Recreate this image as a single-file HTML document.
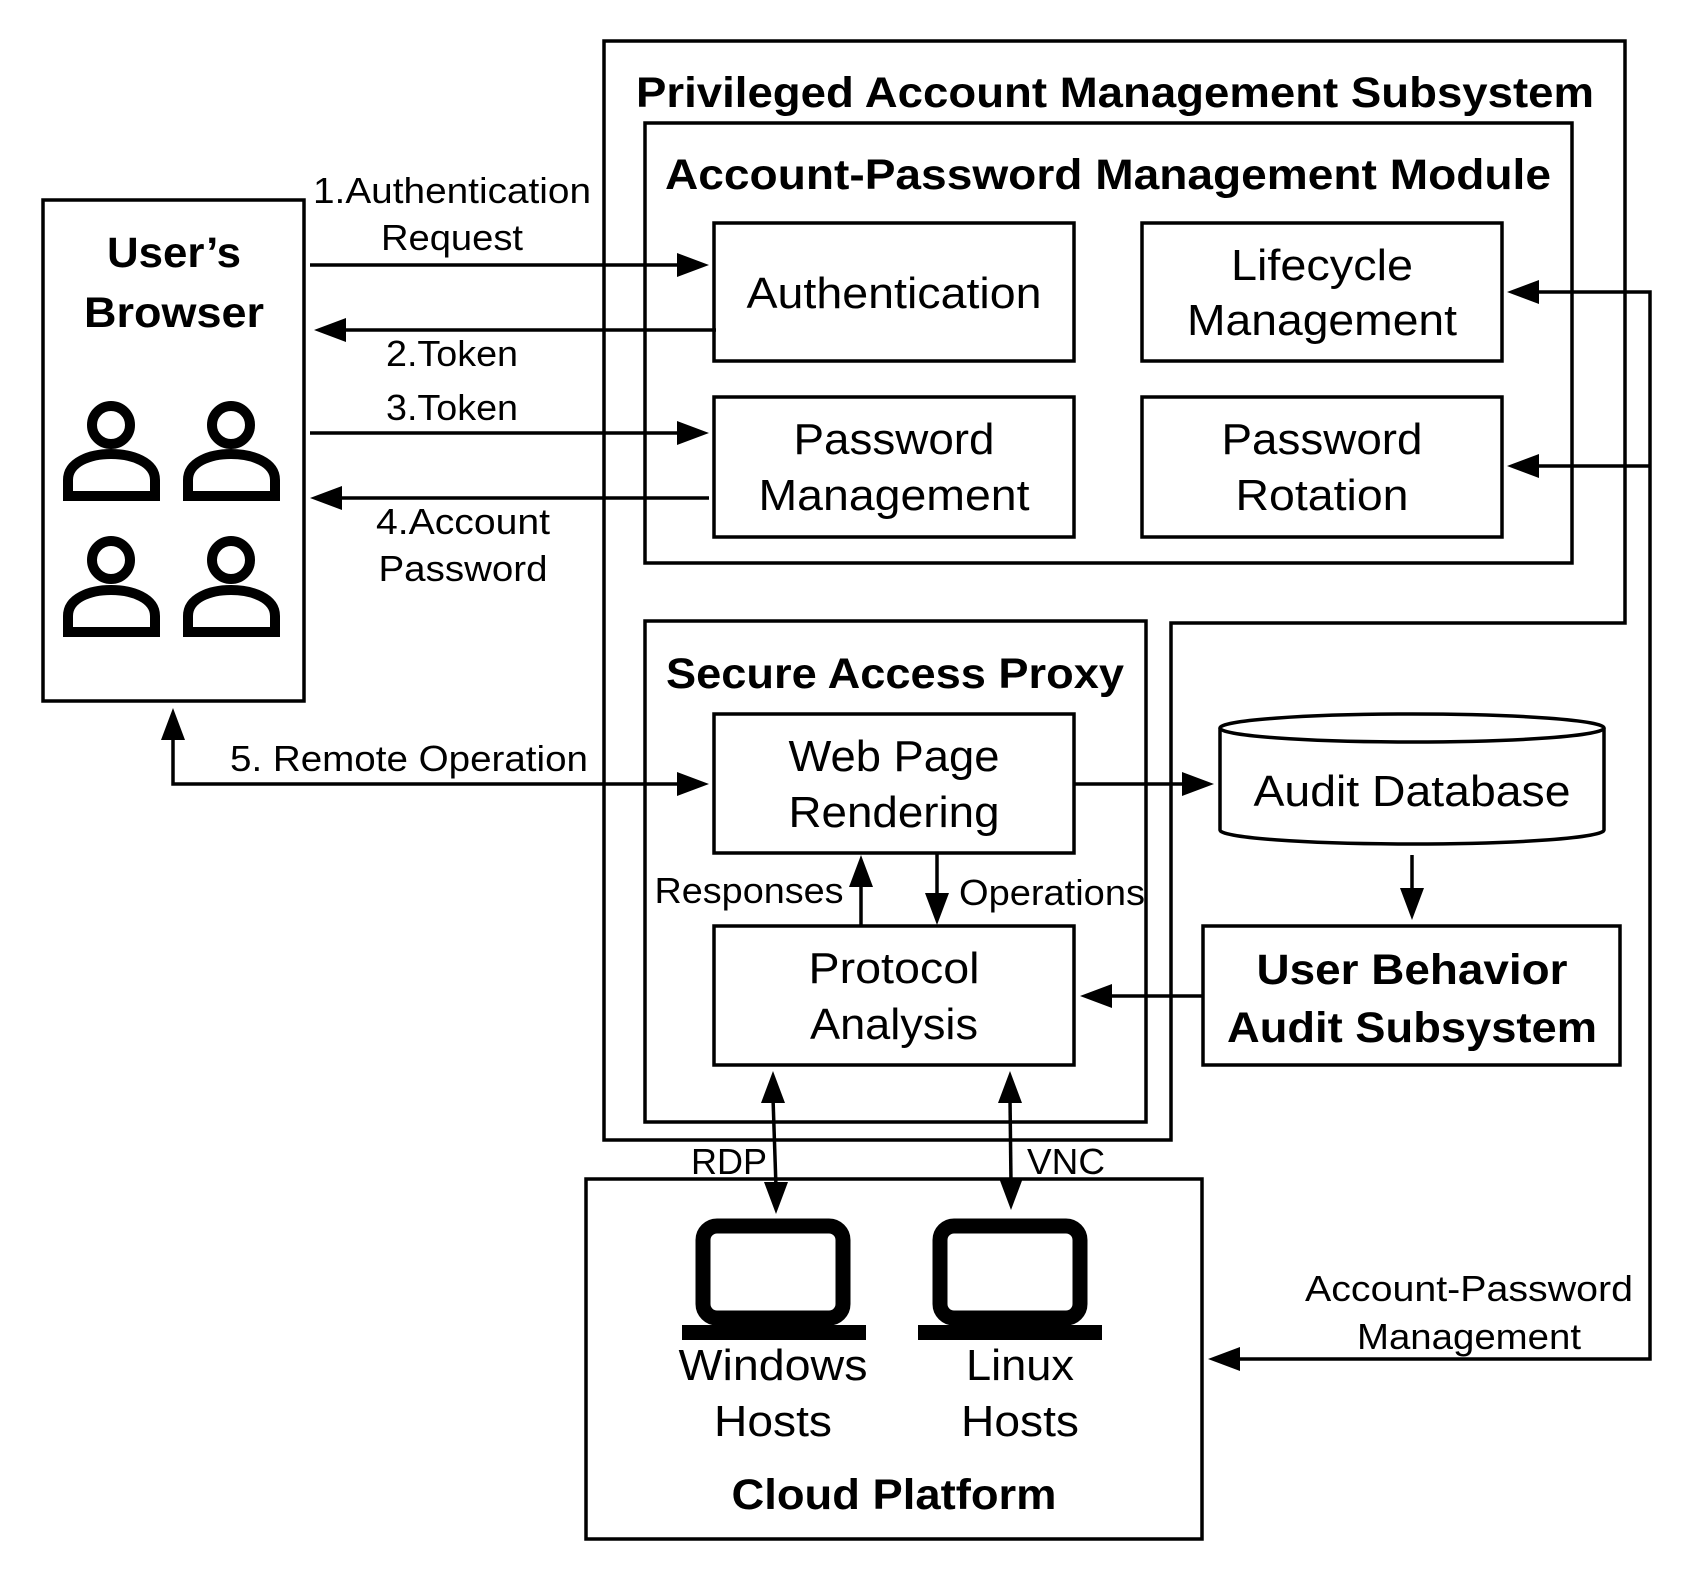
<!DOCTYPE html>
<html><head><meta charset="utf-8"><style>
html,body{margin:0;padding:0;background:#fff;}
svg{display:block;}
text{font-family:"Liberation Sans",Arial,sans-serif;fill:#000;}
.b{font-weight:bold;}
</style></head><body>
<svg width="1696" height="1584" viewBox="0 0 1696 1584" xmlns="http://www.w3.org/2000/svg">
<g fill="none" stroke="#000" stroke-width="3.5">
<polygon points="604,41 1625,41 1625,623 1171,623 1171,1140 604,1140"/>
<rect x="645" y="123" width="927" height="440"/>
<rect x="714" y="223" width="360" height="138"/>
<rect x="1142" y="223" width="360" height="138"/>
<rect x="714" y="397" width="360" height="140"/>
<rect x="1142" y="397" width="360" height="140"/>
<rect x="43" y="200" width="261" height="501"/>
<rect x="645" y="621" width="501" height="501"/>
<rect x="714" y="714" width="360" height="139"/>
<rect x="714" y="926" width="360" height="139"/>
<path d="M1220,728 L1220,830 A192,14 0 0 0 1604,830 L1604,728"/>
<ellipse cx="1412" cy="728" rx="192" ry="14"/>
<rect x="1203" y="926" width="417" height="139"/>
<rect x="586" y="1179" width="616" height="360"/>
<line x1="310" y1="265" x2="682" y2="265"/>
<line x1="716" y1="330" x2="340" y2="330"/>
<line x1="310" y1="433" x2="682" y2="433"/>
<line x1="709" y1="498" x2="336" y2="498"/>
<polyline points="173,740 173,784 682,784"/>
<line x1="1074" y1="784" x2="1188" y2="784"/>
<line x1="861" y1="926" x2="861" y2="882"/>
<line x1="937" y1="853" x2="937" y2="898"/>
<line x1="1412" y1="855" x2="1412" y2="893"/>
<line x1="1203" y1="996" x2="1107" y2="996"/>
<line x1="773" y1="1098" x2="776" y2="1187"/>
<line x1="1010" y1="1098" x2="1011" y2="1183"/>
<polyline points="1534,292 1650,292 1650,1359 1235,1359"/>
<line x1="1650" y1="466" x2="1534" y2="466"/>
<rect x="703" y="1226" width="140" height="92" rx="14" stroke-width="15"/>
<rect x="940" y="1226" width="140" height="92" rx="14" stroke-width="15"/>
<g stroke-width="10">
<circle cx="111" cy="425" r="19"/><circle cx="231" cy="425" r="19"/>
<circle cx="111" cy="560" r="19"/><circle cx="231" cy="560" r="19"/>
<path d="M68,496 L68,480 C68,462 90,454 111,454 C132,454 155,462 155,480 L155,496 Z"/>
<path d="M188,496 L188,480 C188,462 210,454 231,454 C252,454 275,462 275,480 L275,496 Z"/>
<path d="M68,632 L68,616 C68,598 90,590 111,590 C132,590 155,598 155,616 L155,632 Z"/>
<path d="M188,632 L188,616 C188,598 210,590 231,590 C252,590 275,598 275,616 L275,632 Z"/>
</g>
</g>
<g fill="#000">
<rect x="682" y="1325" width="184" height="15"/>
<rect x="918" y="1325" width="184" height="15"/>
<polygon points="709,265 677,253 677,277"/>
<polygon points="314,330 346,318 346,342"/>
<polygon points="709,433 677,421 677,445"/>
<polygon points="310,498 342,486 342,510"/>
<polygon points="173,708 161,740 185,740"/>
<polygon points="709,784 677,772 677,796"/>
<polygon points="1214,784 1182,772 1182,796"/>
<polygon points="861,855 849,887 873,887"/>
<polygon points="937,925 925,893 949,893"/>
<polygon points="1412,920 1400,888 1424,888"/>
<polygon points="1080,996 1112,984 1112,1008"/>
<polygon points="773,1071 761,1103 785,1103"/>
<polygon points="776,1214 764,1182 788,1182"/>
<polygon points="1010,1071 998,1103 1022,1103"/>
<polygon points="1011,1210 999,1178 1023,1178"/>
<polygon points="1507,292 1539,280 1539,304"/>
<polygon points="1507,466 1539,454 1539,478"/>
<polygon points="1208,1359 1240,1347 1240,1371"/>
</g>
<g text-anchor="middle" lengthAdjust="spacingAndGlyphs">
<text x="1115" y="107" class="b" font-size="43" textLength="958" lengthAdjust="spacingAndGlyphs">Privileged Account Management Subsystem</text>
<text x="1108" y="189" class="b" font-size="43" textLength="886" lengthAdjust="spacingAndGlyphs">Account-Password Management Module</text>
<text x="894" y="308" font-size="44" textLength="295" lengthAdjust="spacingAndGlyphs">Authentication</text>
<text x="1322" y="280" font-size="44" textLength="182" lengthAdjust="spacingAndGlyphs">Lifecycle</text>
<text x="1322" y="335" font-size="44" textLength="270" lengthAdjust="spacingAndGlyphs">Management</text>
<text x="894" y="454" font-size="44" textLength="201" lengthAdjust="spacingAndGlyphs">Password</text>
<text x="894" y="510" font-size="44" textLength="271" lengthAdjust="spacingAndGlyphs">Management</text>
<text x="1322" y="454" font-size="44" textLength="201" lengthAdjust="spacingAndGlyphs">Password</text>
<text x="1322" y="510" font-size="44" textLength="173" lengthAdjust="spacingAndGlyphs">Rotation</text>
<text x="174" y="267" class="b" font-size="43" textLength="134" lengthAdjust="spacingAndGlyphs">User’s</text>
<text x="174" y="327" class="b" font-size="43" textLength="180" lengthAdjust="spacingAndGlyphs">Browser</text>
<text x="452" y="203" font-size="36" textLength="278" lengthAdjust="spacingAndGlyphs">1.Authentication</text>
<text x="452" y="250" font-size="36" textLength="142" lengthAdjust="spacingAndGlyphs">Request</text>
<text x="452" y="366" font-size="36" textLength="132" lengthAdjust="spacingAndGlyphs">2.Token</text>
<text x="452" y="420" font-size="36" textLength="132" lengthAdjust="spacingAndGlyphs">3.Token</text>
<text x="463" y="534" font-size="36" textLength="174" lengthAdjust="spacingAndGlyphs">4.Account</text>
<text x="463" y="581" font-size="36" textLength="169" lengthAdjust="spacingAndGlyphs">Password</text>
<text x="409" y="771" font-size="36" textLength="358" lengthAdjust="spacingAndGlyphs">5. Remote Operation</text>
<text x="895" y="688" class="b" font-size="43" textLength="458" lengthAdjust="spacingAndGlyphs">Secure Access Proxy</text>
<text x="894" y="771" font-size="44" textLength="211" lengthAdjust="spacingAndGlyphs">Web Page</text>
<text x="894" y="827" font-size="44" textLength="211" lengthAdjust="spacingAndGlyphs">Rendering</text>
<text x="894" y="983" font-size="44" textLength="171" lengthAdjust="spacingAndGlyphs">Protocol</text>
<text x="894" y="1039" font-size="44" textLength="168" lengthAdjust="spacingAndGlyphs">Analysis</text>
<text x="1412" y="806" font-size="44" textLength="317" lengthAdjust="spacingAndGlyphs">Audit Database</text>
<text x="1412" y="984" class="b" font-size="43" textLength="311" lengthAdjust="spacingAndGlyphs">User Behavior</text>
<text x="1412" y="1042" class="b" font-size="43" textLength="370" lengthAdjust="spacingAndGlyphs">Audit Subsystem</text>
<text x="773" y="1380" font-size="44" textLength="189" lengthAdjust="spacingAndGlyphs">Windows</text>
<text x="773" y="1436" font-size="44" textLength="118" lengthAdjust="spacingAndGlyphs">Hosts</text>
<text x="1020" y="1380" font-size="44" textLength="108" lengthAdjust="spacingAndGlyphs">Linux</text>
<text x="1020" y="1436" font-size="44" textLength="118" lengthAdjust="spacingAndGlyphs">Hosts</text>
<text x="894" y="1509" class="b" font-size="43" textLength="325" lengthAdjust="spacingAndGlyphs">Cloud Platform</text>
<text x="1469" y="1301" font-size="36" textLength="328" lengthAdjust="spacingAndGlyphs">Account-Password</text>
<text x="1469" y="1349" font-size="36" textLength="224" lengthAdjust="spacingAndGlyphs">Management</text>
<text x="749" y="903" font-size="36" textLength="189" lengthAdjust="spacingAndGlyphs">Responses</text>
<text x="1052" y="905" font-size="36" textLength="186" lengthAdjust="spacingAndGlyphs">Operations</text>
<text x="729" y="1174" font-size="36" textLength="76" lengthAdjust="spacingAndGlyphs">RDP</text>
<text x="1066" y="1174" font-size="36" textLength="78" lengthAdjust="spacingAndGlyphs">VNC</text>
</g>
</svg>
</body></html>
